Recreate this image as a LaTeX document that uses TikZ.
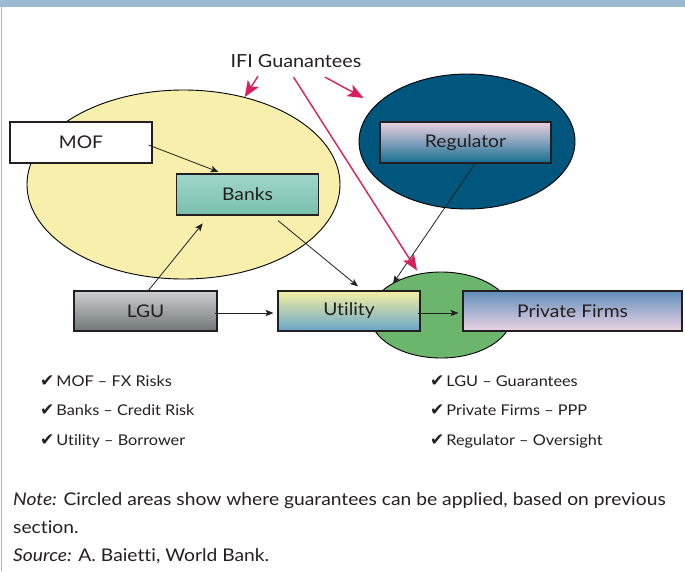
\documentclass[tikz,border=0pt]{standalone}
\usepackage{fontspec}
\setmainfont{Lato}[FakeStretch=1.1, Ligatures={TeX,NoCommon}]
\newfontfamily\chkfont{DejaVu Sans}
\usetikzlibrary{arrows.meta, calc}
\usetikzlibrary{shapes.geometric, positioning}
\definecolor{barblue}{HTML}{9BB9D1}
\definecolor{yelfill}{HTML}{F7EFAB}
\definecolor{regfill}{HTML}{00567C}
\definecolor{grnfill}{HTML}{6BB56D}
\definecolor{ifired}{HTML}{DA1F5E}
\definecolor{ink}{HTML}{231F20}
\tikzset{
	x=1pt, y=-1pt, semithick,
	box/.style = {rectangle, draw=ink, line width=1.2pt, inner sep=0pt, minimum height=41pt, text=ink, font=\fontsize{17.5}{20}\selectfont},
	blob/.style = {ellipse, draw=black, line width=0.9pt, inner sep=0pt},
	link/.style = {-{Stealth[length=8pt, width=6.5pt, inset=2pt]}, line width=0.8pt, draw=ink},
	guar/.style = {-{Stealth[length=16pt, width=13pt, inset=4pt]}, line width=1.4pt, draw=ifired},
	tick/.style = {anchor=base west, inner sep=0pt, text=ink, font=\fontsize{14.8}{18}\selectfont},
	foot/.style = {anchor=base west, inner sep=0pt, text=ink, font=\fontsize{17.5}{20}\selectfont}
}
\newcommand{\ok}{{\chkfont\fontsize{17}{18}\selectfont ✔}\hspace{2pt}}

\begin{document}
\begin{tikzpicture}
	\useasboundingbox (0,0) rectangle (685,571);
	% frame
	\fill[barblue] (0,0) rectangle (685,6.5);
	\fill[barblue] (0.5,0) rectangle (2.2,571);

	% circled areas
	\node[blob, fill=yelfill, minimum width=313pt, minimum height=189pt] (yel) at (183.5,184.5) {};
	\node[blob, fill=regfill, minimum width=216pt, minimum height=135pt] (blue) at (467,141.5) {};
	\node[blob, fill=grnfill, minimum width=142pt, minimum height=86pt] (green) at (441,315) {};

	% actors
	\node[box, fill=white, minimum width=142pt] (mof) at (81,142.5) {MOF};
	\node[box, top color={rgb,255:red,160;green,214;blue,203}, bottom color={rgb,255:red,120;green,190;blue,172}, minimum width=142pt] (banks) at (247.5,194.5) {Banks};
	\node[box, top color={rgb,255:red,234;green,208;blue,224}, middle color={rgb,255:red,140;green,150;blue,180}, bottom color={rgb,255:red,20;green,110;blue,145}, minimum width=171pt] (reg) at (465.5,142.5) {Regulator};
	\node[box, top color={rgb,255:red,204;green,207;blue,209}, bottom color={rgb,255:red,112;green,118;blue,121}, minimum width=143pt, minimum height=40pt] (lgu) at (145.5,311) {LGU};
	\node[box, top color={rgb,255:red,245;green,240;blue,162}, bottom color={rgb,255:red,104;green,165;blue,200}, minimum width=142pt, minimum height=40pt] (util) at (349,311) {Utility};
	\node[box, top color={rgb,255:red,98;green,142;blue,187}, middle color={rgb,255:red,178;green,182;blue,212}, bottom color={rgb,255:red,236;green,212;blue,228}, minimum width=219pt, minimum height=40pt] (firms) at (572.5,311) {Private Firms};

	\node[text=ink, font=\fontsize{18}{20}\selectfont] (ifi) at (296,61) {IFI Guanantees};

	% black links
	\draw[link] ($(mof.east)+(-4,2.5)$) -- ($(banks.north)+(-29,-1.5)$);
	\draw[link, shorten >=10pt] ($(lgu.north)+(3,0)$) -- ($(banks.south)+(-38.5,0)$);
	\draw[link] ($(banks.south)+(30.5,5)$) -- ($(util.north)+(9,-4)$);
	\draw[link] ($(reg.south)+(9.5,0)$) -- ($(util.north)+(44,-7)$);
	\draw[link] ($(lgu.east)+(-3,2)$) -- ($(util.west)+(-4,2)$);
	\draw[link] ($(util.east)+(-3,2)$) -- ($(firms.west)+(-4,2)$);

	% guarantees
	\draw[guar] ($(ifi.south)+(-38,5)$) -- (yel.55);
	\draw[guar] ($(ifi.south)+(-2.5,6)$) -- ($(green.north)+(-24,-1)$);
	\draw[guar, shorten >=14pt] ($(ifi.south)+(29,6)$) -- (blue.158);

	% roles
	\node[tick] (t1) at (40,386) {\ok MOF -- FX Risks};
	\node[tick] (t2) at (40,415) {\ok Banks -- Credit Risk};
	\node[tick] (t3) at (40,445) {\ok Utility -- Borrower};
	\node[tick] (t4) at (430,386) {\ok LGU -- Guarantees};
	\node[tick] (t5) at (430,415) {\ok Private Firms -- PPP};
	\node[tick] (t6) at (430,445) {\ok Regulator -- Oversight};

	% note and source
	\node[foot] (n1) at (13,505) {\textit{Note:} Circled areas show where guarantees can be applied, based on previous};
	\node[foot] (n2) at (13,533) {section.};
	\node[foot] (n3) at (13,561) {\textit{Source:} A. Baietti, World Bank.};
\end{tikzpicture}
\end{document}
